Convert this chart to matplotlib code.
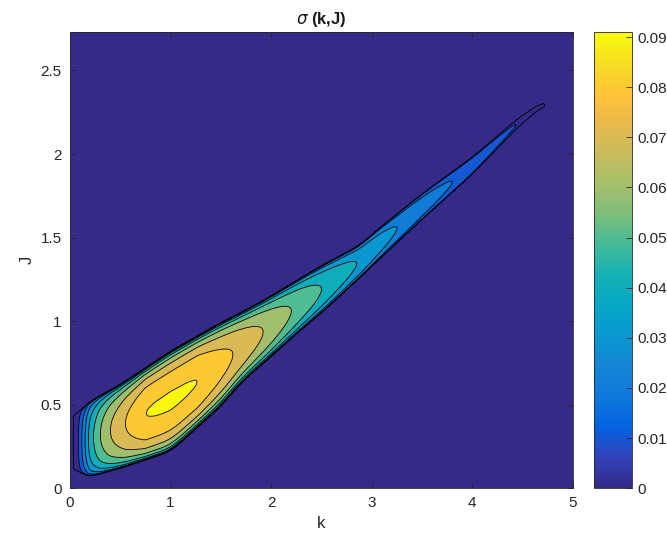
import numpy as np
import matplotlib
matplotlib.use('Agg')
import matplotlib.pyplot as plt
from matplotlib.colors import LinearSegmentedColormap, Normalize
from matplotlib.cm import ScalarMappable
from matplotlib.ticker import FormatStrFormatter

# Tongue outline: lower and upper J edge of sigma > 0
edge_k = [0.05, 0.1, 0.2, 0.5, 1.0, 1.5, 1.7, 2.0, 2.3, 2.5, 2.9, 3.0, 3.5, 4.0, 4.45, 4.7]
edge_J_low = [0.13, 0.08, 0.07, 0.12, 0.22, 0.49, 0.63, 0.79, 0.95, 1.05, 1.27, 1.33, 1.61, 1.88, 2.16, 2.29]
edge_J_high = [0.42, 0.47, 0.52, 0.62, 0.82, 0.99, 1.05, 1.15, 1.26, 1.33, 1.46, 1.52, 1.76, 1.98, 2.21, 2.31]

# Largest sigma across the tongue at each k (contour tips)
crest_k = [0.05, 0.1, 0.15, 0.2, 0.3, 0.4, 0.55, 0.75, 0.85, 1.0, 1.15, 1.27,
           1.62, 1.92, 2.2, 2.5, 2.85, 3.25, 3.8, 4.44, 4.7]
crest_sigma = [0.0, 0.015, 0.03, 0.045, 0.06, 0.07, 0.08, 0.09, 0.0906, 0.091, 0.0906, 0.09,
               0.08, 0.07, 0.06, 0.05, 0.04, 0.03, 0.02, 0.01, 0.0005]

levels = [0.01, 0.02, 0.03, 0.04, 0.05, 0.06, 0.07, 0.08, 0.09]
x_ticks = [0, 1, 2, 3, 4, 5]
y_ticks = [0, 0.5, 1, 1.5, 2, 2.5]
cbar_ticks = [0, 0.01, 0.02, 0.03, 0.04, 0.05, 0.06, 0.07, 0.08, 0.09]
sigma_max = 0.091

# matlab parula, every 4th entry of the 64 colour table
parula = LinearSegmentedColormap.from_list('parula', [
    (0.2081, 0.1663, 0.5292), (0.1959, 0.2645, 0.7279), (0.0117, 0.3875, 0.8820),
    (0.0629, 0.4737, 0.8554), (0.0793, 0.5200, 0.8312), (0.0343, 0.5966, 0.8199),
    (0.0228, 0.6535, 0.7768), (0.0843, 0.6928, 0.7062), (0.2586, 0.7317, 0.5954),
    (0.4871, 0.7491, 0.4840), (0.6473, 0.7456, 0.4188), (0.7858, 0.7356, 0.3633),
    (0.9139, 0.7258, 0.3063), (0.9990, 0.7653, 0.2164), (0.9626, 0.8705, 0.1309),
    (0.9763, 0.9831, 0.0538)], N=256)

plt.rcParams['font.family'] = ['Liberation Sans', 'DejaVu Sans']


def smooth(y, n):
  # moving average so the straight pieces between read points do not show kinks
  pad = np.concatenate([np.full(n, y[0]), y, np.full(n, y[-1])])
  return np.convolve(pad, np.ones(2 * n + 1) / (2 * n + 1), mode='same')[n:-n]


def main():
  k = np.linspace(0, 5, 1001)
  J = np.linspace(0, 2.73, 901)
  K, JJ = np.meshgrid(k, J)

  lo = smooth(np.interp(k, edge_k, edge_J_low), 20)
  hi = smooth(np.interp(k, edge_k, edge_J_high), 20)
  crest = smooth(np.interp(k, crest_k, crest_sigma, left=0, right=0), 4)
  v = (JJ - (lo + hi) / 2) / ((hi - lo) / 2)
  sigma = crest * np.clip(1 - v ** 2, 0, None) ** 0.3

  fig = plt.figure(figsize=(6.67, 5.43), dpi=100)
  ax = fig.add_axes([0.105, 0.101, 0.754, 0.840])
  cax = fig.add_axes([0.891, 0.101, 0.057, 0.840])

  norm = Normalize(0, sigma_max)
  fill_colors = [parula(norm(0))] + [parula(norm(l)) for l in levels]
  ax.contourf(K, JJ, sigma, levels=[-1] + levels + [1], colors=fill_colors)
  ax.contour(K, JJ, sigma, levels=[1e-4] + levels, colors='k', linewidths=0.6)

  ax.set_xlim(0, 5)
  ax.set_ylim(0, 2.73)
  ax.set_xticks(x_ticks)
  ax.set_yticks(y_ticks)
  ax.xaxis.set_major_formatter(FormatStrFormatter('%g'))
  ax.yaxis.set_major_formatter(FormatStrFormatter('%g'))
  ax.tick_params(direction='in', top=True, right=True, length=4, width=0.6,
                 colors='#262626', labelsize=11, pad=6)
  for s in ax.spines.values():
    s.set_color('#262626')
    s.set_linewidth(0.6)
  ax.set_xlabel('k', fontsize=12, color='#262626')
  ax.set_ylabel('J', fontsize=12, color='#262626')
  ax.set_title(r'$\sigma$ (k,J)', fontsize=12, fontweight='bold', color='#1a1a1a', pad=6)

  cb = fig.colorbar(ScalarMappable(norm=norm, cmap=parula), cax=cax, ticks=cbar_ticks)
  cb.ax.yaxis.set_major_formatter(FormatStrFormatter('%g'))
  cb.ax.tick_params(direction='in', length=4, width=0.6, colors='#262626', labelsize=11)
  cb.outline.set_edgecolor('#262626')
  cb.outline.set_linewidth(0.6)

  fig.savefig('out.png', dpi=100)


if __name__ == '__main__':
  main()
